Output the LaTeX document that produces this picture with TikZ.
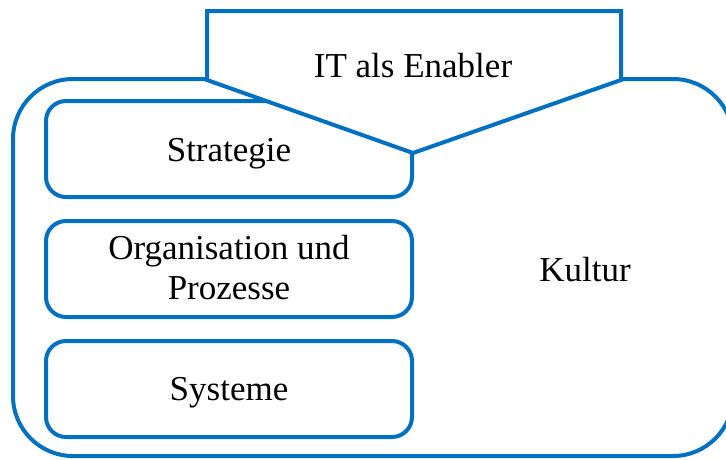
\documentclass[tikz,border=0pt]{standalone}
\usepackage{fontspec}
\setmainfont{Liberation Serif}
\definecolor{itblue}{HTML}{0070C0}
\begin{document}
\begin{tikzpicture}[x=1pt,y=-1pt,
  line/.style={draw=itblue, line width=4pt},
  outerbox/.style={line, rounded corners=60pt, minimum width=720pt, minimum height=377pt, inner sep=0pt},
  box/.style={line, rounded corners=20pt, fill=white, minimum width=366pt, minimum height=96pt, inner sep=0pt},
  txt/.style={font=\fontsize{35}{40}\selectfont, inner sep=0pt, align=center}]
\useasboundingbox (0,0) rectangle (726,459);
\clip (0,0) rectangle (726,459);
% outer box (Kultur)
\node[outerbox] (outer) at (373,267.5) {};
\node[txt, anchor=base] (kultur) at (585,281) {Kultur};
% inner boxes
\node[box] (strat) at (229,149) {};
\node[box] (org) at (229,269) {};
\node[box] (sys) at (229,389) {};
\node[txt, anchor=base] (stratT) at (229,161) {Strategie};
\node[txt] (orgT) at (229,268) {Organisation und\\Prozesse};
\node[txt, anchor=base] (sysT) at (229,400) {Systeme};
% pentagon
\draw[line, fill=white, line join=miter] (207,11) -- (621,11) -- (621,80) -- (413,153) -- (207,80) -- cycle;
\node[txt, anchor=base] (it) at (413,77) {IT als Enabler};
\end{tikzpicture}
\end{document}
